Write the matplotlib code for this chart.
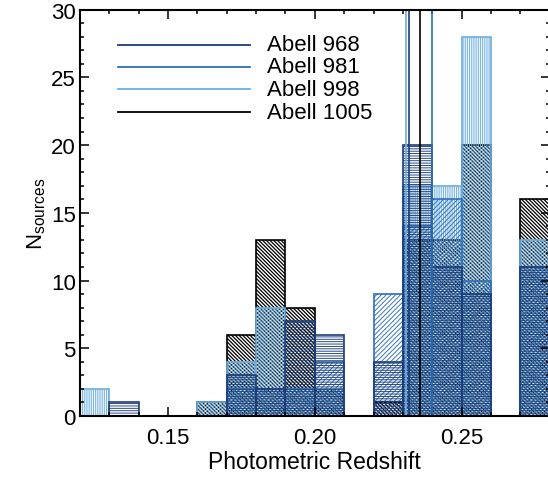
import numpy as np
import matplotlib
matplotlib.use('Agg')
import matplotlib.pyplot as plt

plt.rcParams['font.family'] = ['Liberation Sans', 'DejaVu Sans']

#%% data: histogram counts, bins of 0.01 starting at 0.12
bin_left = [0.12, 0.13, 0.14, 0.15, 0.16, 0.17, 0.18, 0.19,
            0.20, 0.21, 0.22, 0.23, 0.24, 0.25, 0.26, 0.27]
a968 = [0, 1, 0, 0, 0, 3, 2, 7, 6, 0, 4, 20, 11, 9, 0, 11]
a981 = [0, 0, 0, 0, 0, 2, 2, 2, 4, 0, 9, 14, 16, 10, 0, 11]
a998 = [2, 0, 0, 0, 1, 4, 8, 2, 2, 0, 0, 17, 17, 28, 0, 13]
a1005 = [0, 0, 0, 0, 1, 6, 13, 8, 2, 0, 1, 13, 13, 20, 0, 16]

# cluster redshift markers
zmark = {'Abell 968': 0.2321, 'Abell 981': 0.2399,
         'Abell 998': 0.2309, 'Abell 1005': 0.2360}

names = ['Abell 968', 'Abell 981', 'Abell 998', 'Abell 1005']
counts = [a968, a981, a998, a1005]
colors = ['#1b3c78', '#2e6fb8', '#6caee0', 'black']
hatches = ['-' * 7, '/' * 7, '|' * 9, '\\' * 9]
hatch_lw = [0.65, 0.65, 0.65, 0.9]

#%% plot
fig = plt.figure(figsize=(5.48, 4.81), dpi=100)
ax = fig.add_axes([0.146, 0.133, 0.857, 0.845])

# black first so the blue outlines sit on top, as in the original
for i in [3, 2, 1, 0]:
    plt.rcParams['hatch.linewidth'] = hatch_lw[i]
    ax.bar(bin_left, counts[i], width=0.01, align='edge', facecolor='none',
           edgecolor=colors[i], hatch=hatches[i], linewidth=1.2)

for name, col in zip(names, colors):
    ax.axvline(zmark[name], color=col, lw=1.2)

# legend drawn IDL style
ly = [0.913, 0.859, 0.804, 0.748]
for name, col, y in zip(names, colors, ly):
    ax.plot([0.081, 0.362], [y, y], color=col, lw=1.3, transform=ax.transAxes)
    ax.text(0.399, y, name, fontsize=16, va='center', ha='left',
            transform=ax.transAxes)

ax.set_xlim(0.12, 0.28)
ax.set_ylim(0, 30)
ax.set_xticks([0.15, 0.20, 0.25])
ax.set_xticklabels(['0.15', '0.20', '0.25'])
ax.set_xticks(np.linspace(0.12, 0.28, 17), minor=True)
ax.set_yticks(np.arange(0, 31, 5))
ax.set_yticks(np.arange(0, 31, 1), minor=True)
ax.tick_params(which='both', direction='in', top=True, right=True,
               labelsize=16, width=1.1)
ax.tick_params(which='major', length=6.5)
ax.tick_params(which='minor', length=3.2)
ax.tick_params(axis='x', pad=8)
ax.tick_params(axis='y', pad=3)
for s in ax.spines.values():
    s.set_linewidth(1.5)

ax.set_xlabel('Photometric Redshift', fontsize=16.5, labelpad=1)
ax.set_ylabel(r'$\mathregular{N_{sources}}$', fontsize=16, labelpad=2)

fig.savefig('out.png', dpi=100)
